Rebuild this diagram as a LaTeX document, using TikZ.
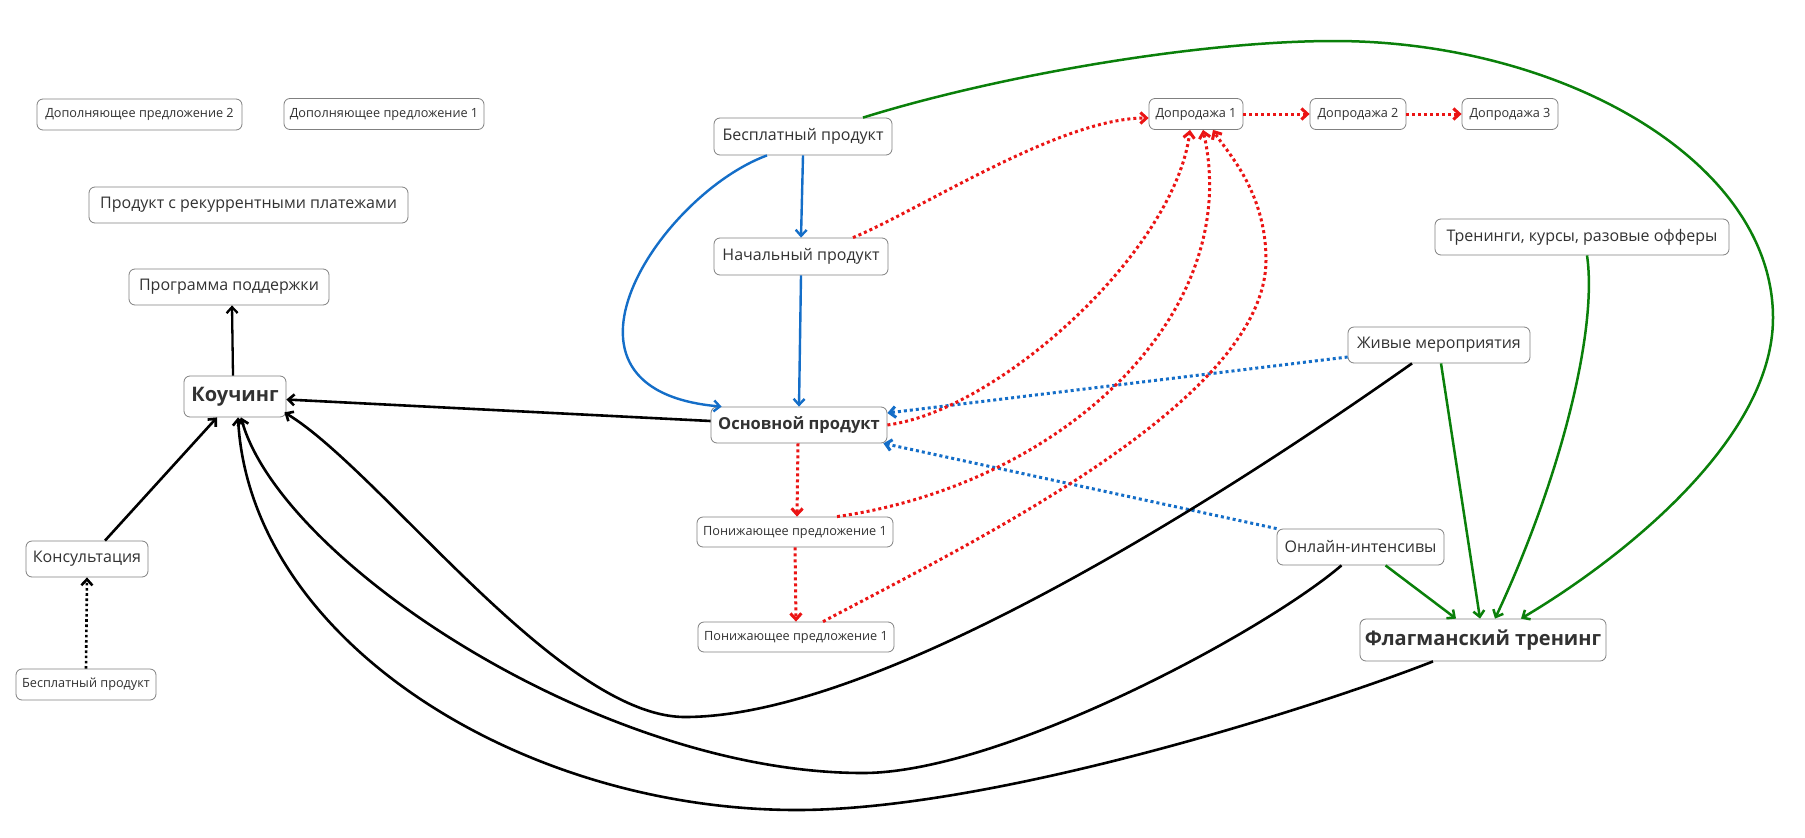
\documentclass[tikz,border=0pt]{standalone}
\usepackage{fontspec}
\setmainfont{Open Sans}
\usetikzlibrary{arrows.meta}
\definecolor{boxgray}{RGB}{128,128,128}
\definecolor{txt}{RGB}{50,50,50}
\definecolor{eblue}{RGB}{20,110,200}
\definecolor{ered}{RGB}{235,20,20}
\definecolor{egreen}{RGB}{10,128,10}
\begin{document}
\begin{tikzpicture}[x=1pt,y=-1pt,
  box/.style={draw=boxgray, line width=0.8pt, rounded corners=6pt, fill=white, inner sep=0pt, text=txt, align=center},
  sm/.style={font=\fontsize{12.7}{15}\selectfont},
  md/.style={font=\fontsize{16}{19}\selectfont},
  bmd/.style={font=\fontsize{16.5}{19}\selectfont\bfseries},
  bbig/.style={font=\fontsize{20}{24}\selectfont\bfseries},
  tip/.style={-{Straight Barb[length=6pt,width=11pt]}},
  blk/.style={draw=black, line width=2.6pt, tip},
  blkthin/.style={draw=black, line width=2.3pt, tip},
  blkdot/.style={draw=black, line width=2.6pt, dash pattern=on 2.6pt off 2.6pt, tip},
  bluel/.style={draw=eblue, line width=2.4pt, tip},
  bluedot/.style={draw=eblue, line width=3pt, dash pattern=on 3pt off 3pt, tip},
  reddot/.style={draw=ered, line width=3pt, dash pattern=on 3pt off 3pt, tip},
  grn/.style={draw=egreen, line width=2.5pt, tip}
]
\useasboundingbox (0,0) rectangle (1805,838);
\fill[white] (0,0) rectangle (1805,838);

% nodes
\node[box,sm,minimum width=205pt,minimum height=31pt] (dp2) at (139.5,114.5) {Дополняющее предложение 2};
\node[box,sm,minimum width=200pt,minimum height=31pt] (dp1) at (384,114) {Дополняющее предложение 1};
\node[box,md,minimum width=319pt,minimum height=36pt] (rec) at (248.5,205) {Продукт с рекуррентными платежами};
\node[box,md,minimum width=200pt,minimum height=36pt] (prog) at (229,287) {Программа поддержки};
\node[box,bbig,minimum width=102pt,minimum height=41pt] (coach) at (235,396.5) {Коучинг};
\node[box,md,minimum width=122pt,minimum height=36pt] (cons) at (87,559) {Консультация};
\node[box,sm,minimum width=140pt,minimum height=31pt] (free2) at (86,684.5) {Бесплатный продукт};
\node[box,md,minimum width=178pt,minimum height=37pt] (free) at (803,136.5) {Бесплатный продукт};
\node[box,md,minimum width=174pt,minimum height=37pt] (start) at (801,256.5) {Начальный продукт};
\node[box,bmd,minimum width=176pt,minimum height=36pt] (core) at (799,425) {Основной продукт};
\node[box,sm,minimum width=196pt,minimum height=30pt] (down1) at (795,532) {Понижающее предложение 1};
\node[box,sm,minimum width=196pt,minimum height=30pt] (down2) at (796,637) {Понижающее предложение 1};
\node[box,sm,minimum width=94pt,minimum height=31pt] (up1) at (1196,114) {Допродажа 1};
\node[box,sm,minimum width=96pt,minimum height=31pt] (up2) at (1358,114) {Допродажа 2};
\node[box,sm,minimum width=96pt,minimum height=31pt] (up3) at (1510,114) {Допродажа 3};
\node[box,md,minimum width=294pt,minimum height=36pt] (trn) at (1582,237) {Тренинги, курсы, разовые офферы};
\node[box,md,minimum width=182pt,minimum height=36pt] (live) at (1439,345) {Живые мероприятия};
\node[box,md,minimum width=167pt,minimum height=36pt] (online) at (1360.5,547) {Онлайн-интенсивы};
\node[box,bbig,minimum width=246pt,minimum height=42pt] (flag) at (1483,640) {Флагманский тренинг};

% blue
\draw[bluel] (free.south) -- (start.north);
\draw[bluel] ([xshift=-36pt]free.south) .. controls (660,195) and (530,390) .. ([xshift=11pt]core.north west);
\draw[bluel] (start.south) -- (core.north);
\draw[bluedot] ([yshift=-12pt]live.west) -- ([yshift=12pt]core.east);
\draw[bluedot] (online.north west) -- ([xshift=-4pt]core.south east);

% red
\draw[reddot] ([xshift=52pt]start.north) .. controls (920,210) and (1060,118) .. ([yshift=-4pt]up1.west);
\draw[reddot] (core.east) .. controls (1000,410) and (1175,250) .. ([xshift=-6pt]up1.south);
\draw[reddot] ([xshift=42pt]down1.north) .. controls (1060,485) and (1245,315) .. ([xshift=7pt]up1.south);
\draw[reddot] ([xshift=27pt]down2.north) .. controls (973,542) and (1266,400) .. (1266,260) .. controls (1266,190) and (1225,150) .. ([xshift=17pt]up1.south);
\draw[reddot] ([xshift=-1pt]core.south) -- ([xshift=2pt]down1.north);
\draw[reddot] (down1.south) -- (down2.north);
\draw[reddot] (up1.east) -- (up2.west);
\draw[reddot] (up2.east) -- (up3.west);

% black
\draw[blkthin] ([xshift=-2pt]coach.north) -- ([xshift=3pt]prog.south);
\draw[blk] ([yshift=4pt]core.west) -- ([yshift=-3pt]coach.east);
\draw[blk] ([xshift=18pt]cons.north) -- ([xshift=-18pt]coach.south);
\draw[blkdot] (free2.north) -- (cons.south);
\draw[blk] ([xshift=-27pt]live.south) .. controls (1292,448) and (900,717) .. (685,717) .. controls (560,717) and (380,470) .. ([xshift=-2pt,yshift=5pt]coach.south east);
\draw[blk] ([xshift=-19pt]online.south) .. controls (1261,634) and (1000,773) .. (863,773) .. controls (600,773) and (280,560) .. ([xshift=6pt]coach.south);
\draw[blk] ([xshift=-50pt]flag.south) .. controls (1330,702) and (1000,810) .. (797,810) .. controls (520,810) and (250,640) .. ([xshift=3pt]coach.south);

% green
\draw[grn] ([xshift=60pt]free.north) .. controls (1000,75) and (1200,41) .. (1334,41) .. controls (1560,41) and (1773,160) .. (1773,318) .. controls (1773,440) and (1620,560) .. ([xshift=38pt]flag.north);
\draw[grn] ([xshift=5pt]trn.south) .. controls (1598,330) and (1560,480) .. ([xshift=12pt]flag.north);
\draw[grn] ([xshift=2pt]live.south) -- ([xshift=-3pt]flag.north);
\draw[grn] ([xshift=25pt]online.south) -- ([xshift=-27pt]flag.north);
\end{tikzpicture}
\end{document}
